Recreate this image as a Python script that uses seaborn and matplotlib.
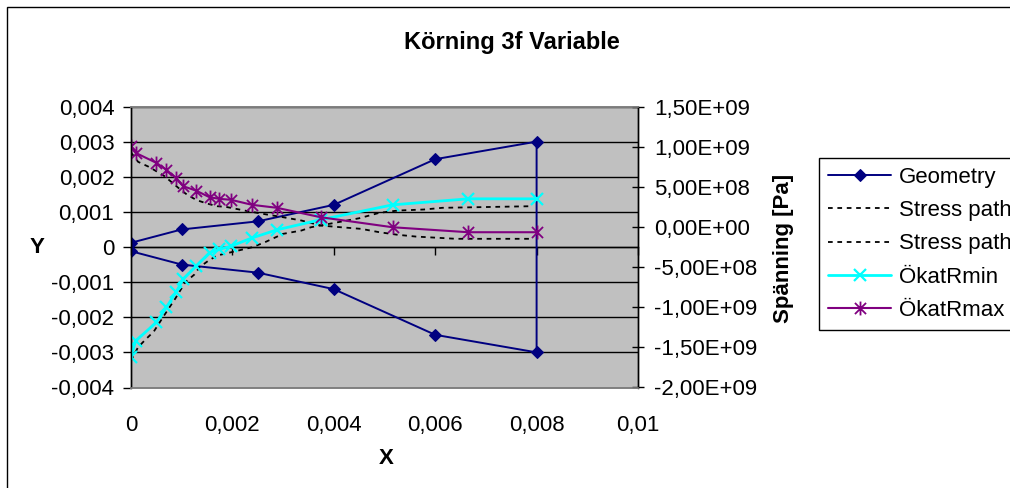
import matplotlib
matplotlib.use("Agg")
import matplotlib.pyplot as plt
import seaborn as sns
import pandas as pd
from matplotlib.path import Path
from matplotlib.patches import Rectangle
from matplotlib.ticker import FuncFormatter, FixedLocator

# ---------------- data ----------------
title = "Körning 3f Variable"
x_label = "X"
y_label = "Y"
y2_label = "Spänning [Pa]"
legend_labels = ["Geometry", "Stress path", "Stress path", "ÖkatRmin", "ÖkatRmax"]

x_ticks = [0, 0.002, 0.004, 0.006, 0.008, 0.01]
y_ticks = [-0.004, -0.003, -0.002, -0.001, 0, 0.001, 0.002, 0.003, 0.004]
y2_ticks = [-2.0e9, -1.5e9, -1.0e9, -5.0e8, 0.0, 5.0e8, 1.0e9, 1.5e9]

# Geometry (left axis): upper contour out, lower contour back
geom_x = [0, 0.001, 0.0025, 0.004, 0.006, 0.008, 0.008, 0.006, 0.004, 0.0025, 0.001, 0]
geom_y = [0.00012, 0.0005, 0.00073, 0.0012, 0.0025, 0.003,
          -0.003, -0.0025, -0.0012, -0.00073, -0.0005, -0.00012]

# Stress path following the max curve (right axis, Pa)
sp1_x = [0, 0.00014, 0.00035, 0.00052, 0.00065, 0.00081, 0.00099, 0.00112, 0.0013,
         0.0015, 0.0017, 0.00187, 0.00204, 0.00224, 0.0026, 0.003, 0.00336, 0.00375,
         0.00414, 0.00454, 0.0049, 0.00526, 0.00562, 0.00641, 0.0079]
sp1_y = [9.27e8, 8.11e8, 7.49e8, 6.86e8, 6.37e8, 5.53e8, 4.57e8, 3.95e8, 3.33e8,
         2.91e8, 2.58e8, 2.50e8, 2.29e8, 2.04e8, 1.63e8, 1.21e8, 8.0e7, 1.7e7,
         -4e6, -2.4e7, -6.6e7, -9.8e7, -1.20e8, -1.48e8, -1.48e8]

# Stress path following the min curve (right axis, Pa)
sp2_x = [0, 0.00014, 0.0003, 0.00045, 0.00063, 0.00076, 0.00087, 0.00107, 0.00125,
         0.00135, 0.00153, 0.0017, 0.00189, 0.00239, 0.00264, 0.003, 0.00336, 0.00355,
         0.0045, 0.0049, 0.00526, 0.00578, 0.00614, 0.0079]
sp2_y = [-1.664e9, -1.498e9, -1.394e9, -1.303e9, -1.125e9, -1.0e9, -8.96e8, -6.89e8,
         -5.93e8, -5.02e8, -4.19e8, -3.56e8, -3.28e8, -2.53e8, -1.91e8, -8.6e7,
         -4.5e7, -4e6, 1.08e8, 1.76e8, 2.04e8, 2.17e8, 2.38e8, 2.58e8]

# ÖkatRmin / ÖkatRmax (right axis, Pa)
r_x = [0, 0.00009, 0.0005, 0.0007, 0.00089, 0.00103, 0.00128, 0.00155, 0.00174,
       0.00197, 0.00239, 0.00288, 0.00374, 0.00516, 0.00665, 0.008]
rmin_y = [-1.62e9, -1.42e9, -1.19e9, -1.0e9, -8.1e8, -6.5e8, -4.9e8, -3.2e8, -2.8e8,
          -2.4e8, -1.36e8, -3.6e7, 9.0e7, 2.75e8, 3.5e8, 3.5e8]
rmax_y = [1.005e9, 9.23e8, 7.98e8, 7.11e8, 6.07e8, 5.07e8, 4.53e8, 3.70e8, 3.50e8,
          3.38e8, 2.75e8, 2.38e8, 1.21e8, -4e6, -6.6e7, -6.6e7]

# ---------------- style ----------------
sns.set_theme(style="white")
plt.rcParams["font.family"] = ["Liberation Sans", "DejaVu Sans"]
FS = 16

NAVY = "#000080"
CYAN = "#00FFFF"
PURPLE = "#800080"

fig = plt.figure(figsize=(10.1, 4.88), dpi=100)
fig.patch.set_facecolor("white")
ax = fig.add_axes([131 / 1010, 1 - 387.5 / 488, 507 / 1010, 281 / 488])
ax.set_facecolor("#C0C0C0")
ax2 = ax.twinx()

# ---------------- series ----------------
df_geom = pd.DataFrame({"x": geom_x, "y": geom_y})
sns.lineplot(data=df_geom, x="x", y="y", ax=ax, sort=False, estimator=None,
             color=NAVY, lw=1.4, marker="D", markersize=6,
             markeredgecolor=NAVY, markerfacecolor=NAVY, label=legend_labels[0])

dash = (0, (2.6, 2.6))
sns.lineplot(x=sp1_x, y=sp1_y, ax=ax2, sort=False, estimator=None,
             color="black", lw=1.3, linestyle=dash, label=legend_labels[1])
sns.lineplot(x=sp2_x, y=sp2_y, ax=ax2, sort=False, estimator=None,
             color="black", lw=1.3, linestyle=dash, label=legend_labels[2])

sns.lineplot(x=r_x, y=rmin_y, ax=ax2, sort=False, estimator=None,
             color=CYAN, lw=2.0, marker="x", markersize=8, markeredgewidth=1.6,
             markeredgecolor=CYAN, label=legend_labels[3])

ast = Path([(-1, -1), (1, 1), (-1, 1), (1, -1), (0, -1.25), (0, 1.25)],
           [Path.MOVETO, Path.LINETO, Path.MOVETO, Path.LINETO, Path.MOVETO, Path.LINETO])
sns.lineplot(x=r_x, y=rmax_y, ax=ax2, sort=False, estimator=None,
             color=PURPLE, lw=1.5, marker=ast, markersize=10, markeredgewidth=1.3,
             markeredgecolor=PURPLE, markerfacecolor="none", label=legend_labels[4])

for a in (ax, ax2):
    lg = a.get_legend()
    if lg is not None:
        lg.remove()

# ---------------- axes ----------------
ax.set_xlim(0, 0.01)
ax.set_ylim(-0.004, 0.004)
ax2.set_ylim(-2.0e9, 1.5e9)

ax.xaxis.set_major_locator(FixedLocator(x_ticks))
ax.yaxis.set_major_locator(FixedLocator(y_ticks))
ax2.yaxis.set_major_locator(FixedLocator(y2_ticks))


def fmt_left(v, pos):
    if abs(v) < 1e-12:
        return "0"
    return f"{v:.3f}".replace(".", ",")


def fmt_x(v, pos):
    if abs(v) < 1e-12:
        return "0"
    return f"{v:.3f}".rstrip("0").replace(".", ",")


def fmt_right(v, pos):
    return f"{v:.2E}".replace(".", ",")


ax.yaxis.set_major_formatter(FuncFormatter(fmt_left))
ax.xaxis.set_major_formatter(FuncFormatter(fmt_x))
ax2.yaxis.set_major_formatter(FuncFormatter(fmt_right))

ax.yaxis.grid(True, color="black", lw=1.0)
ax.xaxis.grid(False)
ax.set_axisbelow(True)

ax.tick_params(axis="y", direction="out", length=6, width=1, color="black",
               pad=6, labelsize=FS, labelcolor="black", left=True)
ax.tick_params(axis="x", length=0, pad=20, labelsize=FS, labelcolor="black")
ax2.tick_params(axis="y", direction="inout", length=9, width=1, color="black",
                pad=7, labelsize=FS, labelcolor="black", right=True)

for a in (ax, ax2):
    for s in ("top", "bottom"):
        a.spines[s].set_color("#808080")
        a.spines[s].set_linewidth(1.2)
    a.spines["left"].set_color("black")
    a.spines["right"].set_color("black")
    a.spines["left"].set_linewidth(1.0)
    a.spines["right"].set_linewidth(1.0)

# horizontal axis crossing at y = 0 with its tick marks
secx = ax.secondary_xaxis(0.5)
secx.set_alignment("bottom")
secx.xaxis.set_major_locator(FixedLocator(x_ticks))
secx.tick_params(axis="x", direction="out", length=6, width=1, color="black",
                 labelbottom=False, labeltop=False)
secx.spines["bottom"].set_color("black")
secx.spines["bottom"].set_linewidth(1.0)

# labels
ax.set_ylabel(y_label, rotation=0, fontsize=FS, fontweight="bold", color="black",
              ha="center", va="center")
ax.yaxis.set_label_coords((37 - 131) / 507, 0.5)
ax.set_xlabel(x_label, fontsize=FS, fontweight="bold", color="black",
              ha="center", va="center")
ax.xaxis.set_label_coords((386 - 131) / 507, (387.5 - 459) / 281)
ax2.set_ylabel(y2_label, fontsize=FS, fontweight="bold", color="black",
               rotation=90, ha="center", va="center")
ax2.yaxis.set_label_coords((783 - 131) / 507, (387.5 - 248) / 281)

fig.text(512 / 1010, 1 - 42 / 488, title, fontsize=17, fontweight="bold",
         ha="center", va="center", color="black")

# legend
h1, l1 = ax.get_legend_handles_labels()
h2, l2 = ax2.get_legend_handles_labels()
leg = fig.legend(h1 + h2, l1 + l2, loc="upper left",
                 bbox_to_anchor=(819 / 1010, 1 - 158 / 488),
                 bbox_transform=fig.transFigure, borderaxespad=0,
                 fontsize=FS, frameon=True, fancybox=False, framealpha=1,
                 edgecolor="black", handlelength=2.85, handletextpad=0.35,
                 labelspacing=0.55, borderpad=0.4)
leg.get_frame().set_linewidth(1.0)
for t in leg.get_texts():
    t.set_color("black")

# outer chart frame
fig.add_artist(Rectangle((7 / 1010, -0.1), 1.2, 1 - 7 / 488 + 0.1,
                         transform=fig.transFigure, fill=False,
                         edgecolor="black", lw=1.0))

fig.savefig("out.png", dpi=100)
